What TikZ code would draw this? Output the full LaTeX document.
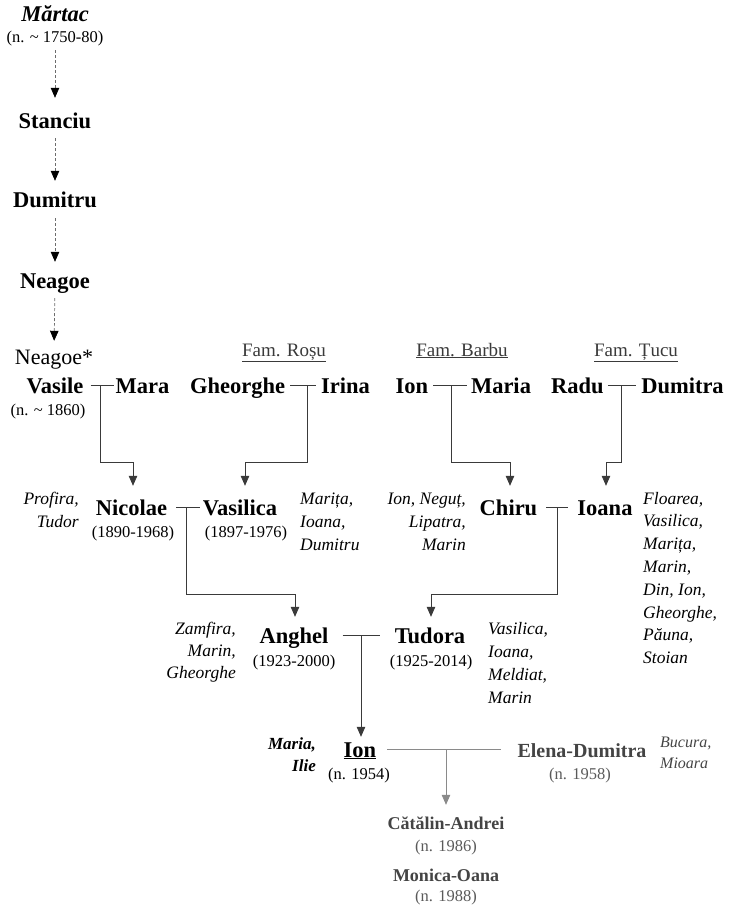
\documentclass[tikz,border=0pt]{standalone}
\usepackage{fontspec}
\setmainfont{Liberation Serif}
\usetikzlibrary{arrows.meta}
\definecolor{lc}{HTML}{3A3A3A}
\definecolor{gl}{HTML}{8A8A8A}
\definecolor{gt}{HTML}{444444}
\definecolor{gd}{HTML}{5A5A5A}
\newcommand\vlist[2]{\begin{tabular}[t]{@{}#1@{}}#2\end{tabular}}
\begin{document}
\begin{tikzpicture}[x=1pt,y=-1pt,
  nm/.style={font=\fontsize{22.5}{26}\selectfont\bfseries, text height=15pt, text depth=0pt, inner sep=0pt, anchor=base},
  dt/.style={font=\fontsize{16.5}{20}\selectfont, text height=11pt, text depth=4pt, inner sep=0pt, anchor=base},
  sib/.style={font=\fontsize{17.5}{23}\selectfont\itshape, inner sep=0pt},
  fam/.style={font=\fontsize{19}{22}\selectfont, text=lc, inner sep=0pt, anchor=base},
  tip/.style={-{Triangle[width=8.5pt,length=10pt]}},
  dsh/.style={draw=gray!85!black, line width=0.7pt, dash pattern=on 3pt off 2pt, -{Triangle[width=8.5pt,length=10pt,color=black]}},
  ln/.style={draw=lc, line width=0.8pt},
  gln/.style={draw=gl, line width=0.8pt}
]
\useasboundingbox (0,0) rectangle (731,905);

% ancestors
\node[nm, font=\fontsize{22.5}{26}\selectfont\bfseries\itshape] (martac) at (55,21) {Mărtac};
\node[dt] (dmartac) at (55,42) {(n. \textasciitilde{} 1750-80)};
\node[nm] (stanciu) at (55,128) {Stanciu};
\node[nm] (dumitru) at (55,207) {Dumitru};
\node[nm] (neagoe) at (55,288) {Neagoe};
\node[nm, font=\fontsize{22}{26}\selectfont] (neagoeS) at (54,364) {Neagoe*};

\draw[dsh, shorten <=4pt, shorten >=15pt] (dmartac.south) -- (stanciu.north);
\draw[dsh, shorten <=10pt, shorten >=11pt] (stanciu.south) -- (dumitru.north);
\draw[dsh, shorten <=11pt, shorten >=11pt] (dumitru.south) -- (neagoe.north);
\draw[dsh, shorten <=10pt, shorten >=8pt] (neagoe.south) -- (neagoeS.north);

% family labels
\node[fam] (frosu) at (284,356) {\underline{Fam. Roșu}};
\node[fam] (fbarbu) at (462,356) {\underline{Fam. Barbu}};
\node[fam] (ftucu) at (636,356) {\underline{Fam. Țucu}};

% generation 1
\node[nm] (vasile) at (55,393) {Vasile};
\node[dt] (dvasile) at (48,415) {(n. \textasciitilde{} 1860)};
\node[nm] (mara) at (142.5,393) {Mara};
\node[nm] (gheorghe) at (237.5,393) {Gheorghe};
\node[nm] (irina) at (345.5,393) {Irina};
\node[nm] (ion1) at (412,393) {Ion};
\node[nm] (maria1) at (501,393) {Maria};
\node[nm] (radu) at (577.5,393) {Radu};
\node[nm] (dumitra) at (682.5,393) {Dumitra};

\draw[ln] ([xshift=7pt]vasile.east) -- ([xshift=-1pt]mara.west);
\draw[ln] ([xshift=5pt]gheorghe.east) -- ([xshift=-5pt]irina.west);
\draw[ln] ([xshift=5pt]ion1.east) -- ([xshift=-4pt]maria1.west);
\draw[ln] ([xshift=4pt]radu.east) -- ([xshift=-5pt]dumitra.west);
\coordinate (jA) at (100,385.5);
\coordinate (jB) at (307,385.5);
\coordinate (jC) at (451,385.5);
\coordinate (jD) at (621,385.5);

% generation 2
\node[nm] (nicolae) at (131.5,515) {Nicolae};
\node[dt] (dnicolae) at (133,537) {(1890-1968)};
\node[nm] (vasilica) at (240,515) {Vasilica};
\node[dt] (dvasilica) at (246,537) {(1897-1976)};
\node[nm] (chiru) at (508.5,515) {Chiru};
\node[nm] (ioana) at (605,515) {Ioana};
\node[sib, anchor=base east] (sNic) at (79,504) {\vlist{r}{Profira,\\Tudor}};
\node[sib, anchor=base west] (sVas) at (300,504) {\vlist{l}{Marița,\\Ioana,\\Dumitru}};
\node[sib, anchor=base east] (sChi) at (466,504) {\vlist{r}{Ion, Neguț,\\Lipatra,\\Marin}};
\node[sib, anchor=base west, font=\fontsize{17.5}{22.8}\selectfont\itshape] (sIoa) at (643,504) {\vlist{l}{Floarea,\\Vasilica,\\Marița,\\Marin,\\Din, Ion,\\Gheorghe,\\Păuna,\\Stoian}};

\draw[ln, tip, shorten >=14pt] (jA) -- ++(0,76.5) -| ([xshift=1.5pt]nicolae.north);
\draw[ln, tip, shorten >=14pt] (jB) -- ++(0,76.5) -| ([xshift=5pt]vasilica.north);
\draw[ln, tip, shorten >=14pt] (jC) -- ++(0,76.5) -| ([xshift=1.5pt]chiru.north);
\draw[ln, tip, shorten >=14pt] (jD) -- ++(0,76.5) -| ([xshift=1pt]ioana.north);

\draw[ln] ([xshift=9pt]nicolae.east) -- ([xshift=-3pt]vasilica.west);
\draw[ln] ([xshift=9pt]chiru.east) -- ([xshift=-9pt]ioana.west);
\coordinate (jE) at (186,507.5);
\coordinate (jF) at (557,507.5);

% generation 3
\node[nm] (anghel) at (294,643) {Anghel};
\node[dt] (danghel) at (294,666) {(1923-2000)};
\node[nm] (tudora) at (430,643) {Tudora};
\node[dt] (dtudora) at (431,666) {(1925-2014)};
\node[sib, anchor=base east, font=\fontsize{17.5}{22}\selectfont\itshape] (sAng) at (236,634) {\vlist{r}{Zamfira,\\Marin,\\Gheorghe}};
\node[sib, anchor=base west] (sTud) at (488,634) {\vlist{l}{Vasilica,\\Ioana,\\Meldiat,\\Marin}};

\draw[ln, tip, shorten >=11pt] (jE) -- ++(0,86.5) -| ([xshift=1pt]anghel.north);
\draw[ln, tip, shorten >=11pt] (jF) -- ++(0,86.5) -| ([xshift=1pt]tudora.north);

\draw[ln] ([xshift=14pt]anghel.east) -- ([xshift=-15pt]tudora.west);
\coordinate (jG) at (361,635.5);

% generation 4
\node[nm] (ion2) at (360,757) {\underline{Ion}};
\node[dt] (dion2) at (359,779) {(n. 1954)};
\node[anchor=base east, font=\fontsize{17}{22}\selectfont\bfseries\itshape, inner sep=0pt] (sIon) at (316,749) {\vlist{r}{Maria,\\Ilie}};
\node[nm, font=\fontsize{20}{24}\selectfont\bfseries, text=gt] (elena) at (582,757) {Elena-Dumitra};
\node[dt, text=gd] (delena) at (580,779) {(n. 1958)};
\node[sib, anchor=base west, font=\fontsize{16}{21}\selectfont\itshape, text=gt] (sEle) at (660,747) {\vlist{l}{Bucura,\\Mioara}};

\draw[ln, tip, shorten >=5pt] (jG) -- (jG |- ion2.north);
\draw[gln] ([xshift=11pt]ion2.east) -- ([xshift=-16pt]elena.west);
\coordinate (jH) at (446,749.5);

% generation 5
\node[nm, font=\fontsize{18}{22}\selectfont\bfseries, text=gt] (catalin) at (446,829) {Cătălin-Andrei};
\node[dt, text=gd] (dcatalin) at (446,851) {(n. 1986)};
\node[nm, font=\fontsize{18}{22}\selectfont\bfseries, text=gt] (monica) at (446,881) {Monica-Oana};
\node[dt, text=gd] (dmonica) at (446,901) {(n. 1988)};

\draw[gln, -{Triangle[width=8.5pt,length=10pt]}, shorten >=9pt] (jH) -- (jH |- catalin.north);
\end{tikzpicture}
\end{document}
